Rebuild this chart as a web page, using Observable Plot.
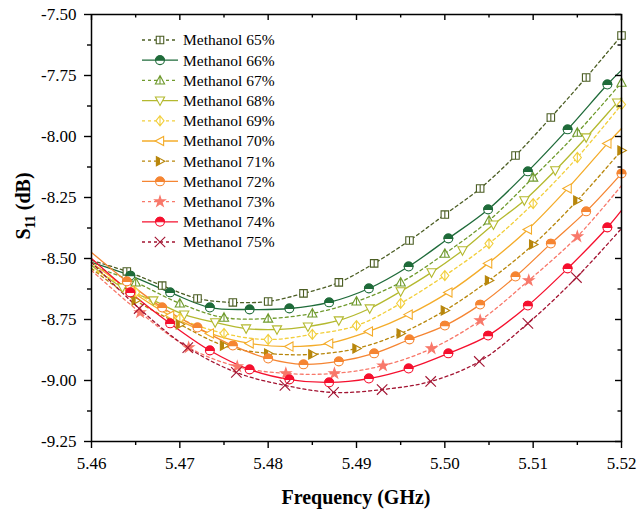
<!DOCTYPE html>
<html><head><meta charset="utf-8">
<script src="https://cdn.jsdelivr.net/npm/d3@7"></script>
<script src="https://cdn.jsdelivr.net/npm/@observablehq/plot@0.6"></script>
<style>body{margin:0;background:#fff;}</style>
</head><body><div id="chart"></div>
<script>
// ---- data ----
const names = ["Methanol 65%","Methanol 66%","Methanol 67%","Methanol 68%","Methanol 69%","Methanol 70%","Methanol 71%","Methanol 72%","Methanol 73%","Methanol 74%","Methanol 75%"];
const colors = ["#4b5d23","#1f6b3a","#6f9a2d","#b4b92f","#f2cf3c","#f4ac2a","#b8860b","#f58532","#f8786a","#f5102e","#a31432"];
const dashed = [true,false,true,false,true,false,true,false,true,false,true];
const lastIsMarker = [true,true,true,false,true,false,true,true,false,false,false];

const f65 = [5.460,5.464,5.468,5.472,5.476,5.480,5.484,5.488,5.492,5.496,5.500,5.504,5.508,5.512,5.516,5.520];
const s65 = [-8.508,-8.553,-8.611,-8.664,-8.680,-8.676,-8.643,-8.598,-8.520,-8.426,-8.320,-8.213,-8.078,-7.922,-7.758,-7.586];
const f66 = [5.460,5.4644,5.4689,5.4734,5.4779,5.4824,5.4869,5.4914,5.4959,5.5004,5.5049,5.5094,5.5139,5.5184];
const s66 = [-8.516,-8.570,-8.639,-8.701,-8.709,-8.705,-8.680,-8.623,-8.533,-8.418,-8.299,-8.143,-7.971,-7.787];
const f67 = [5.460,5.465,5.470,5.475,5.480,5.485,5.490,5.495,5.500,5.505,5.510,5.515,5.520];
const s67 = [-8.529,-8.598,-8.684,-8.742,-8.746,-8.725,-8.676,-8.598,-8.480,-8.344,-8.168,-7.984,-7.779];
const f68 = [5.460,5.4635,5.4670,5.4705,5.4740,5.4775,5.4810,5.4845,5.4880,5.4915,5.4950,5.4985,5.5020,5.5055,5.5090,5.5125,5.5160,5.5195,5.520];
const s68 = [-8.529,-8.619,-8.672,-8.730,-8.762,-8.787,-8.791,-8.779,-8.754,-8.705,-8.635,-8.557,-8.467,-8.361,-8.262,-8.139,-8.004,-7.861,-7.841];
const f69 = [5.460,5.465,5.470,5.475,5.480,5.485,5.490,5.495,5.500,5.505,5.510,5.515,5.520];
const s69 = [-8.541,-8.639,-8.746,-8.807,-8.832,-8.811,-8.775,-8.684,-8.570,-8.439,-8.275,-8.086,-7.869];
const f70 = [5.460,5.4644,5.4689,5.4734,5.4779,5.4824,5.4869,5.4914,5.4959,5.5004,5.5049,5.5094,5.5139,5.5184,5.520];
const s70 = [-8.516,-8.631,-8.734,-8.807,-8.848,-8.861,-8.848,-8.799,-8.730,-8.639,-8.520,-8.381,-8.213,-8.029,-7.967];
const f71 = [5.460,5.465,5.470,5.475,5.480,5.485,5.490,5.495,5.500,5.505,5.510,5.515,5.520];
const s71 = [-8.541,-8.672,-8.770,-8.857,-8.889,-8.893,-8.869,-8.807,-8.713,-8.590,-8.443,-8.262,-8.057];
const f72 = [5.460,5.464,5.468,5.472,5.476,5.480,5.484,5.488,5.492,5.496,5.500,5.504,5.508,5.512,5.516,5.520];
const s72 = [-8.475,-8.594,-8.701,-8.783,-8.857,-8.910,-8.934,-8.922,-8.889,-8.832,-8.775,-8.689,-8.574,-8.439,-8.307,-8.152];
const f73 = [5.460,5.4655,5.4710,5.4765,5.4820,5.4875,5.4930,5.4985,5.5040,5.5095,5.5150,5.520];
const s73 = [-8.549,-8.721,-8.865,-8.943,-8.971,-8.971,-8.939,-8.869,-8.754,-8.590,-8.410,-8.201];
const f74 = [5.460,5.4644,5.4689,5.4734,5.4779,5.4824,5.4869,5.4914,5.4959,5.5004,5.5049,5.5094,5.5139,5.5184,5.520];
const s74 = [-8.500,-8.639,-8.766,-8.877,-8.955,-8.996,-9.008,-8.992,-8.951,-8.889,-8.816,-8.693,-8.541,-8.373,-8.303];
const f75 = [5.460,5.4654,5.4709,5.4764,5.4819,5.4874,5.4929,5.4984,5.5039,5.5094,5.5149,5.520];
const s75 = [-8.516,-8.705,-8.865,-8.967,-9.020,-9.049,-9.037,-9.004,-8.922,-8.766,-8.578,-8.377];
const s66end = -7.728;

const xMajor = [5.46,5.47,5.48,5.49,5.50,5.51,5.52];
const xMinor = [5.465,5.475,5.485,5.495,5.505,5.515];
const yMajor = [-9.25,-9.00,-8.75,-8.50,-8.25,-8.00,-7.75,-7.50];
const yMinor = [-9.125,-8.875,-8.625,-8.375,-8.125,-7.875,-7.625];

const freqs = [f65,f66,f67,f68,f69,f70,f71,f72,f73,f74,f75];
const vals  = [s65,s66.concat([s66end]),s67,s68,s69,s70,s71,s72,s73,s74,s75];
const freqsFull = freqs.map((f,i)=> i===1 ? f.concat([5.52]) : f);
const lastMk = lastIsMarker.map((v,i)=> i===1 ? false : v);

// ---- symbols ----
const rr = s => Math.sqrt(s/Math.PI);
const symSquare = {draw(c,s){const r=rr(s)*0.85; c.rect(-r,-r,2*r,2*r); c.moveTo(0,-r); c.lineTo(0,r);}};
const symTriUp = {draw(c,s){const r=rr(s)*1.1; c.moveTo(0,-r); c.lineTo(r*0.95,r*0.75); c.lineTo(-r*0.95,r*0.75); c.closePath(); c.moveTo(0,-r); c.lineTo(0,r*0.75);}};
const symTriDown = {draw(c,s){const r=rr(s)*1.1; c.moveTo(0,r); c.lineTo(r*0.95,-r*0.75); c.lineTo(-r*0.95,-r*0.75); c.closePath();}};
const symTriLeft = {draw(c,s){const r=rr(s)*1.1; c.moveTo(-r,0); c.lineTo(r*0.75,-r*0.95); c.lineTo(r*0.75,r*0.95); c.closePath();}};
const symTriRight = {draw(c,s){const r=rr(s)*1.1; c.moveTo(r,0); c.lineTo(-r*0.75,-r*0.95); c.lineTo(-r*0.75,r*0.95); c.closePath();}};
const symTriRightHalf = {draw(c,s){const r=rr(s)*1.1; c.moveTo(-r*0.75,-r*0.95); c.lineTo(0,-r*0.55); c.lineTo(0,r*0.55); c.lineTo(-r*0.75,r*0.95); c.closePath();}};
const symDiamond = {draw(c,s){const r=rr(s)*1.15; c.moveTo(0,-r); c.lineTo(r*0.8,0); c.lineTo(0,r); c.lineTo(-r*0.8,0); c.closePath(); c.moveTo(0,-r); c.lineTo(0,r);}};
const symCircle = {draw(c,s){const r=rr(s); c.moveTo(r,0); c.arc(0,0,r,0,2*Math.PI);}};
const symTopHalf = {draw(c,s){const r=rr(s); c.moveTo(-r,0); c.arc(0,0,r,Math.PI,2*Math.PI); c.closePath();}};
const symStar = {draw(c,s){ d3.symbolStar.draw(c, s*0.55); }};
const symTimes = {draw(c,s){ d3.symbolTimes.draw(c, s*1.2); }};

// marker layers per series: [symbol, fill("c"=series color), stroke]
const markerLayers = [
  [[symSquare,"white","c"]],
  [[symCircle,"white","c"],[symTopHalf,"c","c"]],
  [[symTriUp,"white","c"]],
  [[symTriDown,"white","c"]],
  [[symDiamond,"white","c"]],
  [[symTriLeft,"white","c"]],
  [[symTriRight,"white","c"],[symTriRightHalf,"c","none"]],
  [[symCircle,"white","c"],[symTopHalf,"c","c"]],
  [[symStar,"c","c"]],
  [[symCircle,"white","c"],[symTopHalf,"c","c"]],
  [[symTimes,"none","c"]]
];

const R = 4.4;
const marks = [];
names.forEach((n,i)=>{
  const rows = freqsFull[i].map((f,j)=>({x:f, y:vals[i][j]}));
  marks.push(Plot.line(rows,{x:"x",y:"y",stroke:colors[i],strokeWidth:1.3,curve:"catmull-rom",strokeDasharray: dashed[i] ? "3,3" : null}));
});
names.forEach((n,i)=>{
  const rows = freqsFull[i].map((f,j)=>({x:f, y:vals[i][j]}));
  const mk = rows.slice(1, lastMk[i] ? rows.length : rows.length-1);
  markerLayers[i].forEach(([sym,fill,stroke])=>{
    marks.push(Plot.dot(mk,{x:"x",y:"y",r:R,symbol:sym,
      fill: fill==="c"?colors[i]:fill, stroke: stroke==="c"?colors[i]:stroke, strokeWidth:1.1}));
  });
});

const PW = 639-91-18, PH = 518-14-77;
const svg = Plot.plot({
  width: 639, height: 518,
  marginLeft: 91, marginRight: 18, marginTop: 14, marginBottom: 77,
  x: {domain: [5.46, 5.52]},
  y: {domain: [-9.25, -7.50]},
  style: {fontFamily: "'Liberation Serif', 'Times New Roman', serif", fontSize: "17px", background: "white", color: "black"},
  marks: [
    ...marks,
    Plot.frame({stroke: "black", strokeWidth: 1.5}),
    Plot.axisX({ticks: xMajor, tickFormat: d => d.toFixed(2), tickSize: 7, tickPadding: 8, label: null, strokeWidth: 1.4}),
    Plot.axisX({ticks: xMinor, tickFormat: () => "", tickSize: 4, label: null, strokeWidth: 1.4}),
    Plot.axisY({ticks: yMajor, tickFormat: d => d.toFixed(2), tickSize: 7, tickPadding: 8, label: null, strokeWidth: 1.4}),
    Plot.axisY({ticks: yMinor, tickFormat: () => "", tickSize: 4, label: null, strokeWidth: 1.4}),
    Plot.ruleX(xMajor, {x: d => d, insetBottom: PH - 6, stroke: "black", strokeWidth: 1.4}),
    Plot.ruleX(xMinor, {x: d => d, insetBottom: PH - 3.5, stroke: "black", strokeWidth: 1.4}),
    Plot.ruleY(yMajor, {y: d => d, insetLeft: PW - 6, stroke: "black", strokeWidth: 1.4}),
    Plot.ruleY(yMinor, {y: d => d, insetLeft: PW - 3.5, stroke: "black", strokeWidth: 1.4})
  ]
});
document.getElementById("chart").appendChild(svg);

const S = d3.select(svg);
// axis titles
S.append("text").attr("x", 356).attr("y", 504).attr("text-anchor","middle")
  .attr("font-family","'Liberation Serif', serif").attr("font-weight","bold").attr("font-size",20).attr("fill","black")
  .text("Frequency (GHz)");
const yl = S.append("text").attr("transform","translate(30,206) rotate(-90)").attr("text-anchor","middle")
  .attr("font-family","'Liberation Serif', serif").attr("font-weight","bold").attr("font-size",20).attr("fill","black");
yl.append("tspan").text("S");
yl.append("tspan").attr("font-size",14).attr("dy",5).text("11");
yl.append("tspan").attr("dy",-5).text(" (dB)");

// legend
const area = Math.PI*R*R;
const lg = S.append("g").attr("text-anchor","start");
names.forEach((n,i)=>{
  const g = lg.append("g").attr("transform",`translate(160,${40 + 20.2*i})`);
  g.append("line").attr("x1",-18).attr("x2",18).attr("y1",0).attr("y2",0)
    .attr("stroke",colors[i]).attr("stroke-width",1.3).attr("stroke-dasharray", dashed[i] ? "3,3" : null);
  markerLayers[i].forEach(([sym,fill,stroke])=>{
    g.append("path").attr("d", d3.symbol(sym, area)())
      .attr("fill", fill==="c"?colors[i]:fill).attr("stroke", stroke==="c"?colors[i]:stroke).attr("stroke-width",1.1);
  });
  g.append("text").attr("x",23).attr("y",0).attr("dy","0.35em").attr("text-anchor","start")
    .attr("font-family","'Liberation Serif', serif").attr("font-size",15.5).attr("fill","black").text(n);
});
</script>
</body></html>
